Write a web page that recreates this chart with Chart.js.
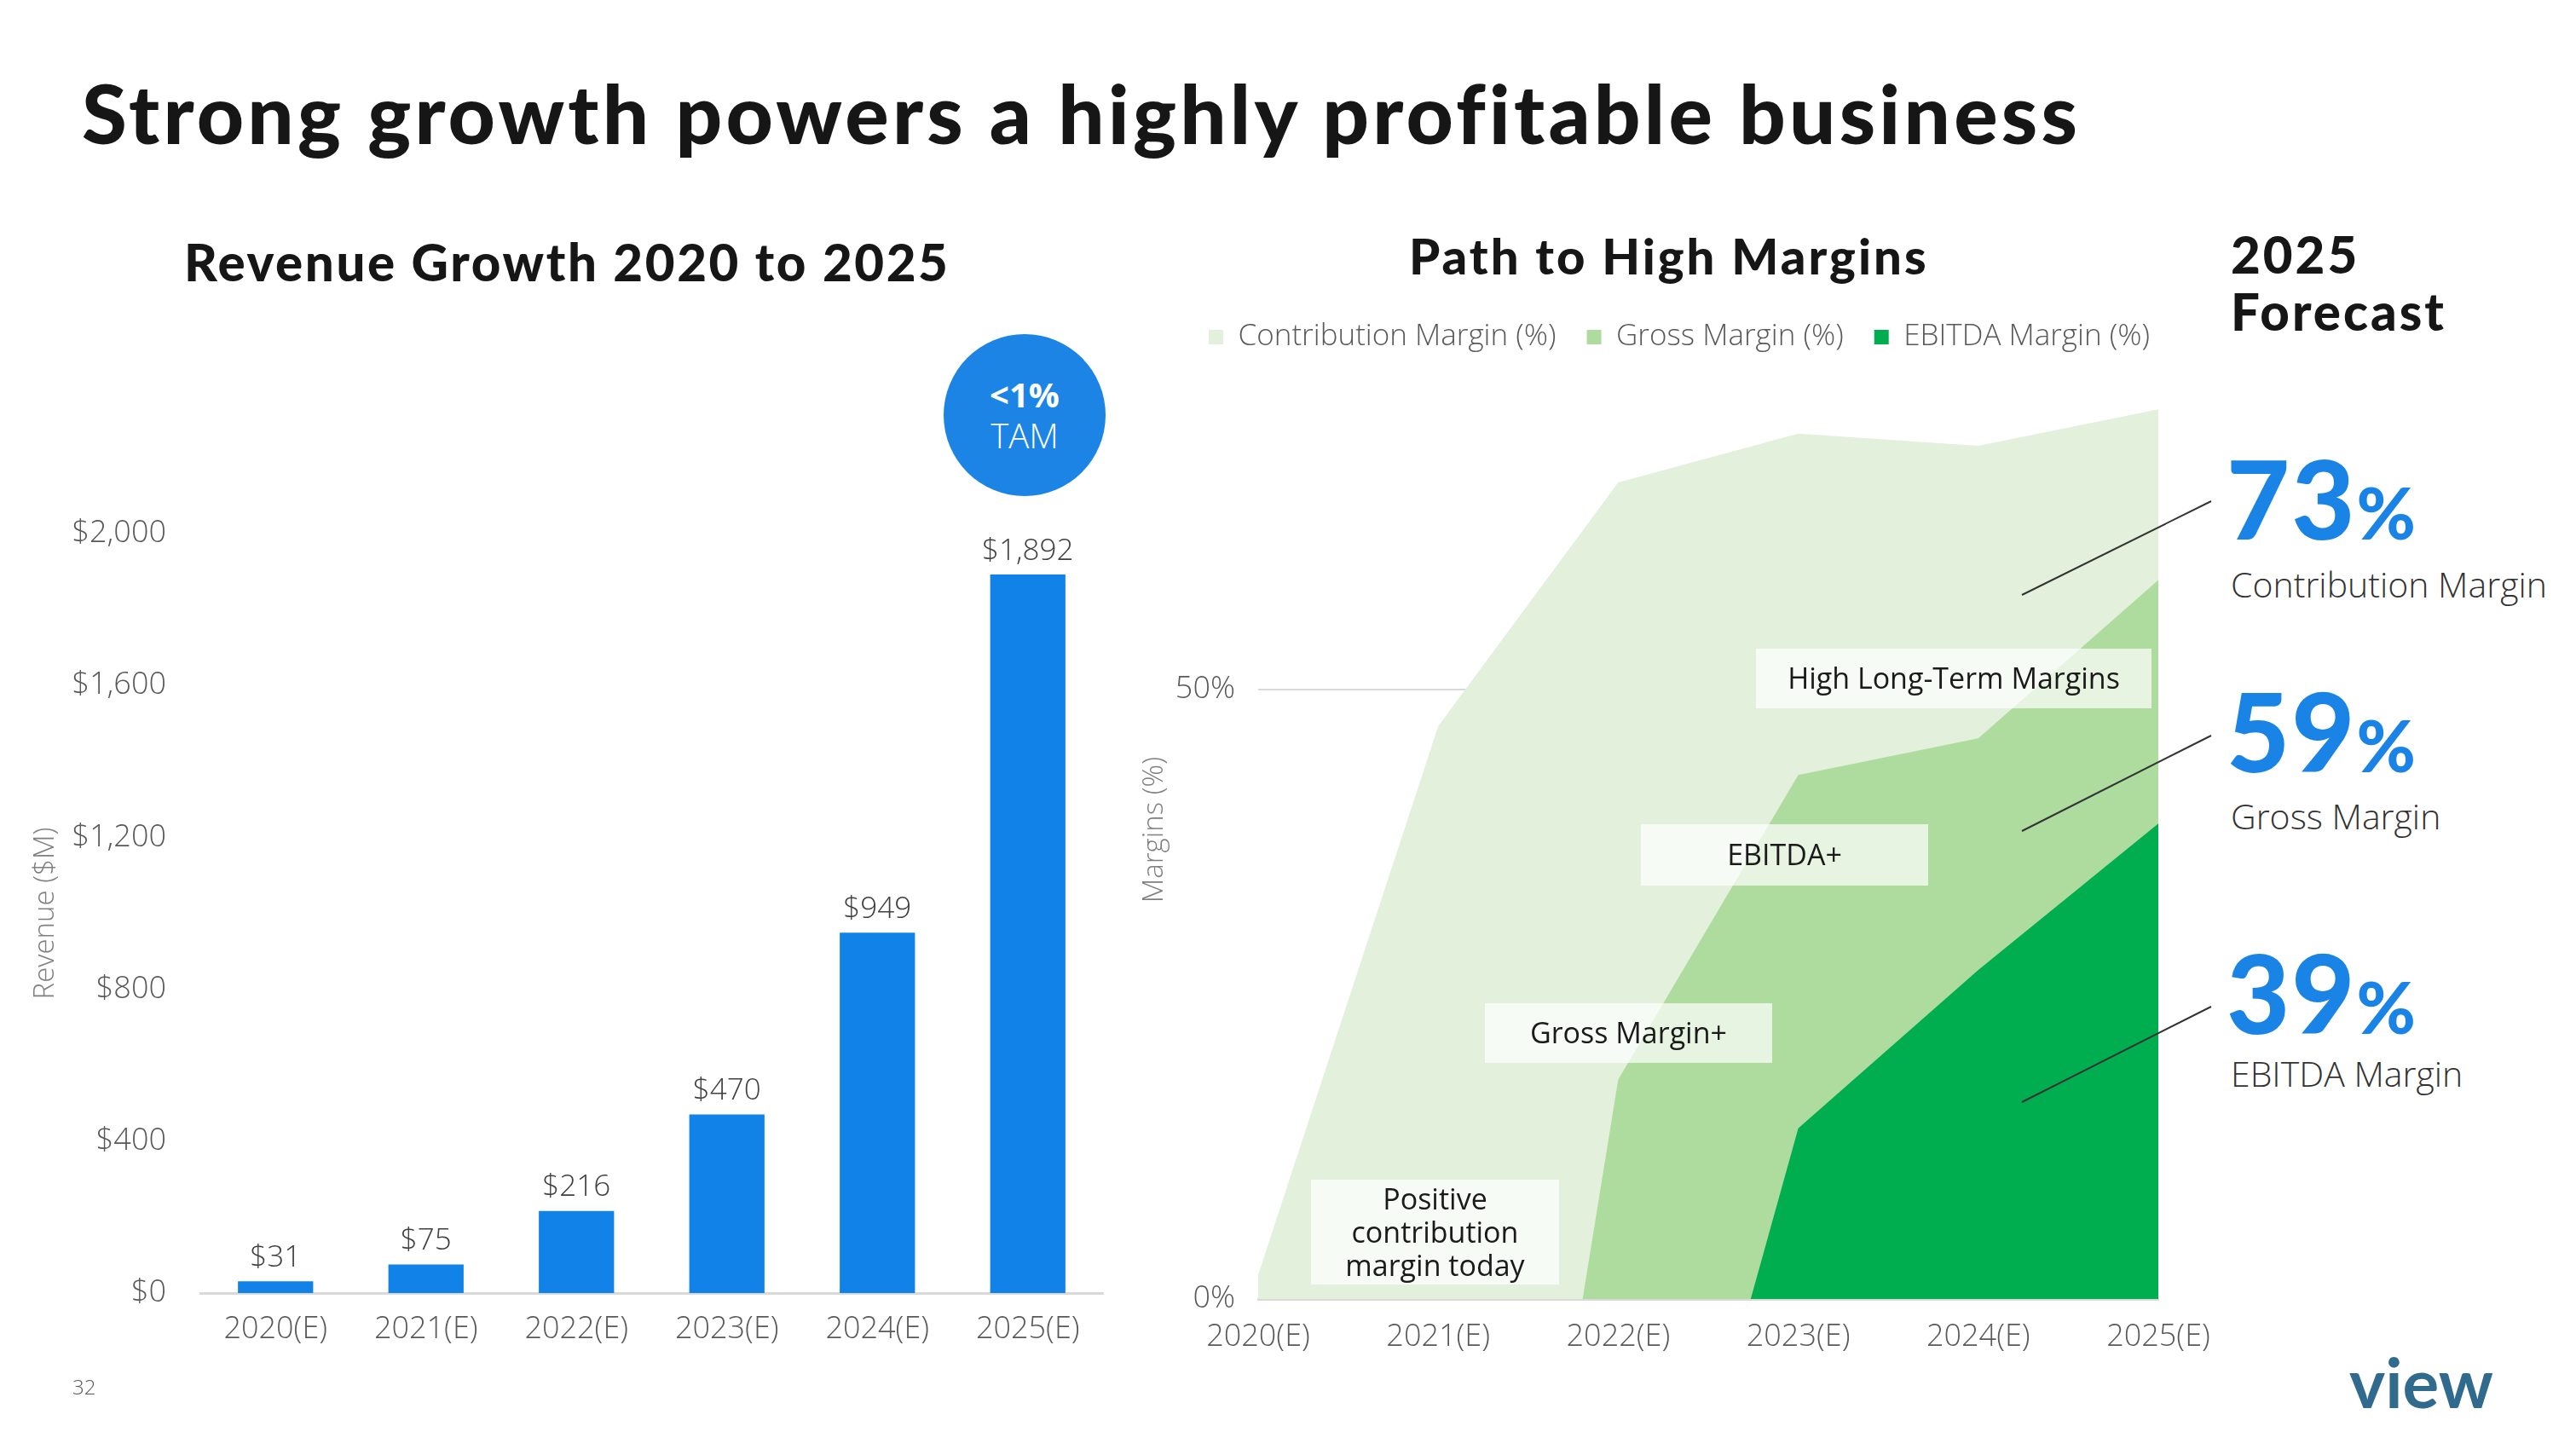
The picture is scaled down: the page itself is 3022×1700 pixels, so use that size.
<!DOCTYPE html>
<html>
<head>
<meta charset="utf-8">
<title>Strong growth powers a highly profitable business</title>
<script src="https://cdn.jsdelivr.net/npm/chart.js@4.4.0/dist/chart.umd.min.js"></script>
<style>
  html, body { margin: 0; padding: 0; background: #fff; }
  #slide { position: relative; width: 3022px; height: 1700px; overflow: hidden; font-family: 'Open Sans', sans-serif; color: #222; }
  .abs { position: absolute; white-space: nowrap; line-height: 1; }
  .head { font-family: 'Lato', sans-serif; font-weight: 900; color: #161616; }
  .big { font-family: 'Lato', sans-serif; font-weight: 900; color: #1a84e6; font-size: 128px; letter-spacing: 2px; }
  .big span { font-size: 84px; }
  .sub { font-weight: 300; font-size: 41px; color: #333; }
  .note { position: absolute; background: rgba(255, 255, 255, 0.7); display: flex; align-items: center; justify-content: center; text-align: center; font-size: 34px; color: #1a1a1a; line-height: 1.15; }
  canvas { position: absolute; }
</style>
</head>
<body>
<div id="slide">
  <div class="abs head" style="left:96px; top:84px; font-size:96px; letter-spacing:4.2px;">Strong growth powers a highly profitable business</div>
  <div class="abs head" style="left:216px; top:277px; font-size:60px; letter-spacing:2.6px;">Revenue Growth 2020 to 2025</div>
  <div class="abs head" style="left:1653px; top:271px; font-size:58px; letter-spacing:3px;">Path to High Margins</div>
  <div class="abs head" style="left:2617px; top:268px; font-size:60px; letter-spacing:3px;">2025</div>
  <div class="abs head" style="left:2617px; top:335px; font-size:60px; letter-spacing:3px;">Forecast</div>

  <div class="abs big" style="left:2612px; top:520px;">73<span>%</span></div>
  <div class="abs sub" style="left:2617px; top:665px;">Contribution Margin</div>
  <div class="abs big" style="left:2612px; top:793px;">59<span>%</span></div>
  <div class="abs sub" style="left:2617px; top:937px;">Gross Margin</div>
  <div class="abs big" style="left:2612px; top:1100px;">39<span>%</span></div>
  <div class="abs sub" style="left:2617px; top:1239px;">EBITDA Margin</div>

  <div class="abs" style="left:1107px; top:392px; width:190px; height:190px; border-radius:50%; background:#1b84e4; color:#fff; display:flex; flex-direction:column; align-items:center; justify-content:center; font-size:40px;">
    <div style="font-weight:700; margin-bottom:8px;">&lt;1%</div>
    <div style="font-weight:300;">TAM</div>
  </div>

  <canvas id="revenueChart" width="1320" height="1037" style="left:20px; top:560px;"></canvas>
  <canvas id="marginChart" width="1302" height="1304" style="left:1330px; top:300px;"></canvas>

  <div class="note" style="left:2060px; top:761px; width:464px; height:70px;">High Long-Term Margins</div>
  <div class="note" style="left:1925px; top:967px; width:337px; height:72px;">EBITDA+</div>
  <div class="note" style="left:1742px; top:1177px; width:337px; height:70px;">Gross Margin+</div>
  <div class="note" style="left:1538px; top:1384px; width:291px; height:123px;">Positive<br>contribution<br>margin today</div>

  <svg class="abs" width="3022" height="1700" style="left:0; top:0; pointer-events:none;">
    <g stroke="#333" stroke-width="2">
      <line x1="2372" y1="698" x2="2594" y2="588"/>
      <line x1="2372" y1="975" x2="2594" y2="863"/>
      <line x1="2372" y1="1293" x2="2594" y2="1181"/>
    </g>
  </svg>

  <div class="abs" style="left:85px; top:1615px; font-size:24px; font-weight:300; color:#595959;">32</div>
  <div class="abs" style="left:2756px; top:1581px; font-family:'Lato',sans-serif; font-weight:700; font-size:80px; color:#306b8e;">view</div>
</div>

<script>
// revenue chart
const years = ['2020(E)', '2021(E)', '2022(E)', '2023(E)', '2024(E)', '2025(E)'];
const revenue = [31, 75, 216, 470, 949, 1892];
const revenueTicks = [0, 400, 800, 1200, 1600, 2000];

// margin chart (values below 0% are cut off by the axis, as in the slide)
const contributionMargin = [2, 47, 67, 71, 70, 73];
const grossMargin = [null, -73, 18, 43, 46, 59];
const ebitdaMargin = [null, null, -39, 14, 27, 39];
const marginTicks = [0, 50];

const tickFont = { family: 'Open Sans', size: 36, weight: '300' };
const tickColor = '#595959';
const axisTitleFont = { family: 'Open Sans', size: 33, weight: '300' };

const barValueLabels = {
    id: 'barValueLabels',
    afterDatasetsDraw(chart) {
        const ctx = chart.ctx;
        const meta = chart.getDatasetMeta(0);
        ctx.save();
        ctx.font = '300 35px "Open Sans"';
        ctx.fillStyle = '#404040';
        ctx.textAlign = 'center';
        ctx.textBaseline = 'bottom';
        meta.data.forEach((bar, i) => {
            ctx.fillText('$' + revenue[i].toLocaleString('en-US'), bar.x, bar.y - 10);
        });
        ctx.restore();
    }
};

// the slide's legend sits a bit right of the plot centre
const legendNudge = {
    id: 'legendNudge',
    beforeDraw(chart) {
        chart.legend.left += 39;
        chart.legend.right += 39;
    }
};

new Chart(document.getElementById('revenueChart'), {
    type: 'bar',
    data: {
        labels: years,
        datasets: [{ label: 'Revenue ($M)', data: revenue, backgroundColor: '#1183e8', barPercentage: 0.5, categoryPercentage: 1 }]
    },
    options: {
        responsive: false, animation: false,
        layout: { padding: { left: 0, right: 46, top: 66, bottom: 0 } },
        plugins: { legend: { display: false }, tooltip: { enabled: false } },
        scales: {
            x: {
                grid: { display: false },
                border: { color: '#d9d9d9', width: 3 },
                ticks: { font: tickFont, color: tickColor, padding: 13, maxRotation: 0 },
                afterFit: s => { s.height = 80; s.paddingLeft = 0; s.paddingRight = 0; }
            },
            y: {
                min: 0, max: 2000,
                afterBuildTicks: s => { s.ticks = revenueTicks.map(v => ({ value: v })); },
                ticks: { font: tickFont, color: tickColor, padding: 32, callback: v => '$' + v.toLocaleString('en-US') },
                grid: { display: false },
                border: { display: false },
                title: { display: true, text: 'Revenue ($M)', font: axisTitleFont, color: '#7f7f7f', padding: { top: 14, bottom: 0 } },
                afterFit: s => { s.width = 215; }
            }
        }
    },
    plugins: [barValueLabels]
});

const areaStyle = { fill: 'origin', borderColor: 'rgba(0,0,0,0)', borderWidth: 0, pointRadius: 0, tension: 0 };

new Chart(document.getElementById('marginChart'), {
    type: 'line',
    data: {
        labels: years,
        datasets: [
            { ...areaStyle, label: 'Contribution Margin (%)', data: contributionMargin, backgroundColor: '#e2f0dc', order: 3 },
            { ...areaStyle, label: 'Gross Margin (%)', data: grossMargin, backgroundColor: '#aedb9e', order: 2 },
            { ...areaStyle, label: 'EBITDA Margin (%)', data: ebitdaMargin, backgroundColor: '#00ae4f', order: 1 }
        ]
    },
    options: {
        responsive: false, animation: false,
        layout: { padding: { left: 0, right: 100, top: 42, bottom: 0 } },
        plugins: {
            legend: {
                reverse: true,
                labels: { boxWidth: 17, boxHeight: 17, padding: 36, color: tickColor, font: { family: 'Open Sans', size: 35, weight: '300' } }
            },
            tooltip: { enabled: false }
        },
        scales: {
            x: {
                grid: { display: false },
                border: { color: '#d9d9d9', width: 3 },
                ticks: { font: tickFont, color: tickColor, padding: 15, maxRotation: 0 },
                afterFit: s => { s.height = 80; s.paddingLeft = 0; s.paddingRight = 0; }
            },
            y: {
                min: 0, max: 77,
                afterBuildTicks: s => { s.ticks = marginTicks.map(v => ({ value: v })); },
                ticks: { font: tickFont, color: tickColor, padding: 27, callback: v => v + '%' },
                grid: { color: '#d9d9d9', lineWidth: 2, drawTicks: false },
                border: { display: false },
                title: { display: true, text: 'Margins (%)', font: axisTitleFont, color: '#7f7f7f', padding: { top: 5, bottom: 0 } },
                afterFit: s => { s.width = 146; }
            }
        }
    },
    plugins: [legendNudge]
});
</script>
</body>
</html>
